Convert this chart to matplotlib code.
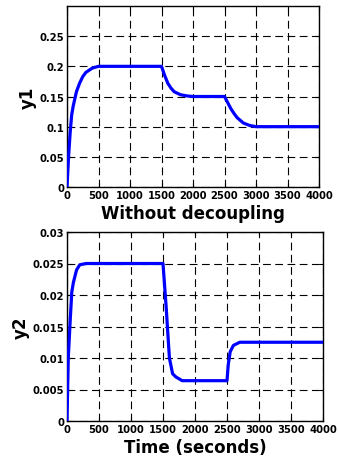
import matplotlib
matplotlib.use("Agg")
import matplotlib.pyplot as plt

t1 = [0, 25, 50, 75, 100, 150, 200, 250, 300, 400, 500, 1500,
      1550, 1600, 1650, 1700, 1800, 1900, 2000, 2500,
      2550, 2600, 2650, 2700, 2800, 2900, 3000, 4000]
y1 = [0, 0.05, 0.09, 0.12, 0.135, 0.158, 0.172, 0.183, 0.19, 0.197, 0.2, 0.2,
      0.185, 0.172, 0.164, 0.158, 0.153, 0.151, 0.15, 0.15,
      0.14, 0.13, 0.122, 0.115, 0.106, 0.102, 0.1, 0.1]

t2 = [0, 20, 50, 75, 100, 150, 200, 300, 1500,
      1550, 1600, 1650, 1700, 1800, 2500,
      2520, 2550, 2600, 2700, 4000]
y2 = [0, 0.01, 0.016, 0.0205, 0.022, 0.024, 0.0248, 0.025, 0.025,
      0.018, 0.01, 0.0075, 0.007, 0.0064, 0.0064,
      0.009, 0.011, 0.012, 0.0125, 0.0125]

xticks = [0, 500, 1000, 1500, 2000, 2500, 3000, 3500, 4000]
y1ticks = [0, 0.05, 0.1, 0.15, 0.2, 0.25]
y1labels = ["0", "0.05", "0.1", "0.15", "0.2", "0.25"]
y2ticks = [0, 0.005, 0.01, 0.015, 0.02, 0.025, 0.03]
y2labels = ["0", "0.005", "0.01", "0.015", "0.02", "0.025", "0.03"]

plt.rcParams['font.family'] = ['DejaVu Sans']
plt.rcParams['font.weight'] = 'bold'

fig = plt.figure(figsize=(3.38, 4.60), dpi=100)
W, H = 338, 460
ax1 = fig.add_axes([67/W, 1 - 188/H, (319-67)/W, (188-7)/H])
ax2 = fig.add_axes([67/W, 1 - 422/H, (323-67)/W, (422-233)/H])

for ax, t, y, yt, yl, ymax, ylab, xlab in [
        (ax1, t1, y1, y1ticks, y1labels, 0.3, "y1", "Without decoupling"),
        (ax2, t2, y2, y2ticks, y2labels, 0.03, "y2", "Time (seconds)")]:
    ax.plot(t, y, color='#0000ff', lw=2.3, zorder=3)
    ax.set_xlim(0, 4000)
    ax.set_ylim(0, ymax)
    ax.set_xticks(xticks)
    ax.set_xticklabels([str(v) for v in xticks], fontsize=7.2, fontweight='bold')
    ax.set_yticks(yt)
    ax.set_yticklabels(yl, fontsize=7.2, fontweight='bold')
    ax.tick_params(direction='in', length=3, width=0.8, pad=2,
                   top=True, right=True)
    ax.grid(True, color='black', linestyle=(0, (7, 4)), linewidth=0.8)
    ax.set_ylabel(ylab, fontsize=12, fontweight='bold', labelpad=2)
    ax.set_xlabel(xlab, fontsize=12, fontweight='bold', labelpad=3)
    for s in ax.spines.values():
        s.set_linewidth(1.0)

fig.savefig("out.png", dpi=100)
